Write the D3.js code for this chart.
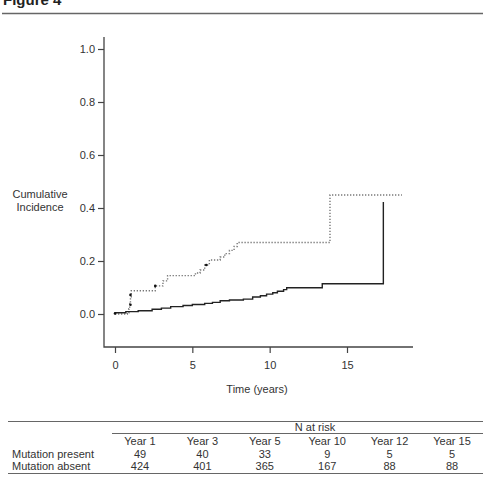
<!DOCTYPE html>
<html>
<head>
<meta charset="utf-8">
<script src="https://cdn.jsdelivr.net/npm/d3@7"></script>
<style>
  body { margin: 0; background: #fff; }
  svg { font-family: "Liberation Sans", Arial, sans-serif; }
</style>
</head>
<body>
<div id="chart"></div>
<script>
var width = 490;
var height = 478;

// step data (time in years, cumulative incidence)
var absentTimes = [0, 0, 0.7, 1.5, 2.4, 3.0, 3.6, 4.4, 5.0, 5.8, 6.3, 6.8, 7.4, 8.3, 8.9, 9.4, 9.8, 10.2, 10.5, 10.9, 11.1, 13.4, 17.35];
var absentValues = [0, 0.005, 0.009, 0.012, 0.018, 0.022, 0.028, 0.032, 0.036, 0.040, 0.044, 0.050, 0.053, 0.056, 0.064, 0.069, 0.075, 0.080, 0.086, 0.092, 0.099, 0.114, 0.423];
var presentTimes = [0, 0.8, 0.9, 0.95, 1.0, 1.05, 2.6, 3.1, 3.4, 5.2, 5.5, 5.8, 6.1, 6.8, 7.1, 7.4, 7.7, 7.9, 13.9, 18.55];
var presentValues = [0, 0.005, 0.02, 0.04, 0.065, 0.088, 0.106, 0.125, 0.145, 0.155, 0.166, 0.185, 0.204, 0.215, 0.228, 0.240, 0.255, 0.27, 0.449, 0.449];
var markTimes = [0, 1.0, 1.0, 2.6, 5.9];
var markValues = [0.002, 0.035, 0.072, 0.106, 0.185];

var xTicks = [0, 5, 10, 15];
var yTicks = [0, 0.2, 0.4, 0.6, 0.8, 1.0];

// at-risk table
var riskYears = ["Year 1", "Year 3", "Year 5", "Year 10", "Year 12", "Year 15"];
var riskGroups = ["Mutation present", "Mutation absent"];
var riskPresent = [49, 40, 33, 9, 5, 5];
var riskAbsent = [424, 401, 365, 167, 88, 88];

var svg = d3.select("#chart").append("svg")
    .attr("width", width)
    .attr("height", height);

// title
svg.append("text")
    .attr("x", 3).attr("y", 5)
    .attr("font-size", 15).attr("font-weight", "bold")
    .attr("fill", "#222")
    .text("Figure 4");
svg.append("line")
    .attr("x1", 2).attr("x2", 483).attr("y1", 13.5).attr("y2", 13.5)
    .attr("stroke", "#666").attr("stroke-width", 1.5);

var xScale = d3.scaleLinear().domain([0, 15]).range([115, 347]);
var yScale = d3.scaleLinear().domain([0, 1]).range([314, 49]);

var axisColor = "#444";
var textColor = "#333";

// frame (L shape)
svg.append("path")
    .attr("d", "M" + [104, 37] + "L" + [104, 347] + "L" + [413, 347])
    .attr("fill", "none").attr("stroke", axisColor).attr("stroke-width", 1.3);

var yAxis = d3.axisLeft(yScale).tickValues(yTicks).tickSize(6).tickPadding(3)
    .tickFormat(d3.format(".1f"));
var gy = svg.append("g").attr("transform", "translate(104,0)").call(yAxis);
gy.select(".domain").remove();

var xAxis = d3.axisBottom(xScale).tickValues(xTicks).tickSize(6).tickPadding(8);
var gx = svg.append("g").attr("transform", "translate(0,347)").call(xAxis);
gx.select(".domain").remove();

[gx, gy].forEach(function(g) {
    g.selectAll("line").attr("stroke", axisColor).attr("stroke-width", 1.2);
    g.selectAll("text").attr("fill", textColor).attr("font-size", 11)
        .attr("font-family", "Liberation Sans, Arial, sans-serif");
});

// axis titles
svg.append("text")
    .attr("x", 257).attr("y", 393)
    .attr("text-anchor", "middle").attr("font-size", 11).attr("fill", textColor)
    .text("Time (years)");
var yl = svg.append("text")
    .attr("text-anchor", "middle").attr("font-size", 11).attr("fill", textColor);
yl.append("tspan").attr("x", 40).attr("y", 198).text("Cumulative");
yl.append("tspan").attr("x", 40).attr("y", 211).text("Incidence");

// curves
var line = d3.line()
    .x(function(d) { return xScale(d[0]); })
    .y(function(d) { return yScale(d[1]); })
    .curve(d3.curveStepAfter);

var present = presentTimes.map(function(t, i) { return [t, presentValues[i]]; });
var absent = absentTimes.map(function(t, i) { return [t, absentValues[i]]; });

svg.append("path")
    .datum(present)
    .attr("d", line)
    .attr("fill", "none").attr("stroke", "#777")
    .attr("stroke-width", 1.4).attr("stroke-dasharray", "1.3,1.7");

svg.append("path")
    .datum(absent)
    .attr("d", line)
    .attr("fill", "none").attr("stroke", "#222").attr("stroke-width", 1.4);

svg.selectAll("circle.mark")
    .data(markTimes)
    .enter().append("circle")
    .attr("class", "mark")
    .attr("cx", function(d) { return xScale(d); })
    .attr("cy", function(d, i) { return yScale(markValues[i]); })
    .attr("r", 1.3)
    .attr("fill", "#111");

// N at risk table
var colX = d3.scalePoint().domain(riskYears).range([140, 452]);
var rule = function(x1, x2, y, w) {
    svg.append("line")
        .attr("x1", x1).attr("x2", x2).attr("y1", y).attr("y2", y)
        .attr("stroke", "#666").attr("stroke-width", w);
};
rule(8, 483, 421.5, 1.2);
rule(112, 483, 433.5, 1);
rule(8, 483, 473.5, 1.2);

var tfs = 11;
svg.append("text")
    .attr("x", 315).attr("y", 431)
    .attr("text-anchor", "middle").attr("font-size", tfs).attr("fill", textColor)
    .text("N at risk");

svg.selectAll("text.year")
    .data(riskYears)
    .enter().append("text")
    .attr("class", "year")
    .attr("x", function(d) { return colX(d); })
    .attr("y", 445)
    .attr("text-anchor", "middle").attr("font-size", tfs).attr("fill", textColor)
    .text(function(d) { return d; });

var rows = [riskPresent, riskAbsent];
rows.forEach(function(vals, r) {
    var yy = 458 + r * 12;
    svg.append("text")
        .attr("x", 12).attr("y", yy)
        .attr("font-size", tfs).attr("fill", textColor)
        .text(riskGroups[r]);
    svg.selectAll("text.row" + r)
        .data(vals)
        .enter().append("text")
        .attr("class", "row" + r)
        .attr("x", function(d, i) { return colX(riskYears[i]); })
        .attr("y", yy)
        .attr("text-anchor", "middle").attr("font-size", tfs).attr("fill", textColor)
        .text(function(d) { return d; });
});
</script>
</body>
</html>
